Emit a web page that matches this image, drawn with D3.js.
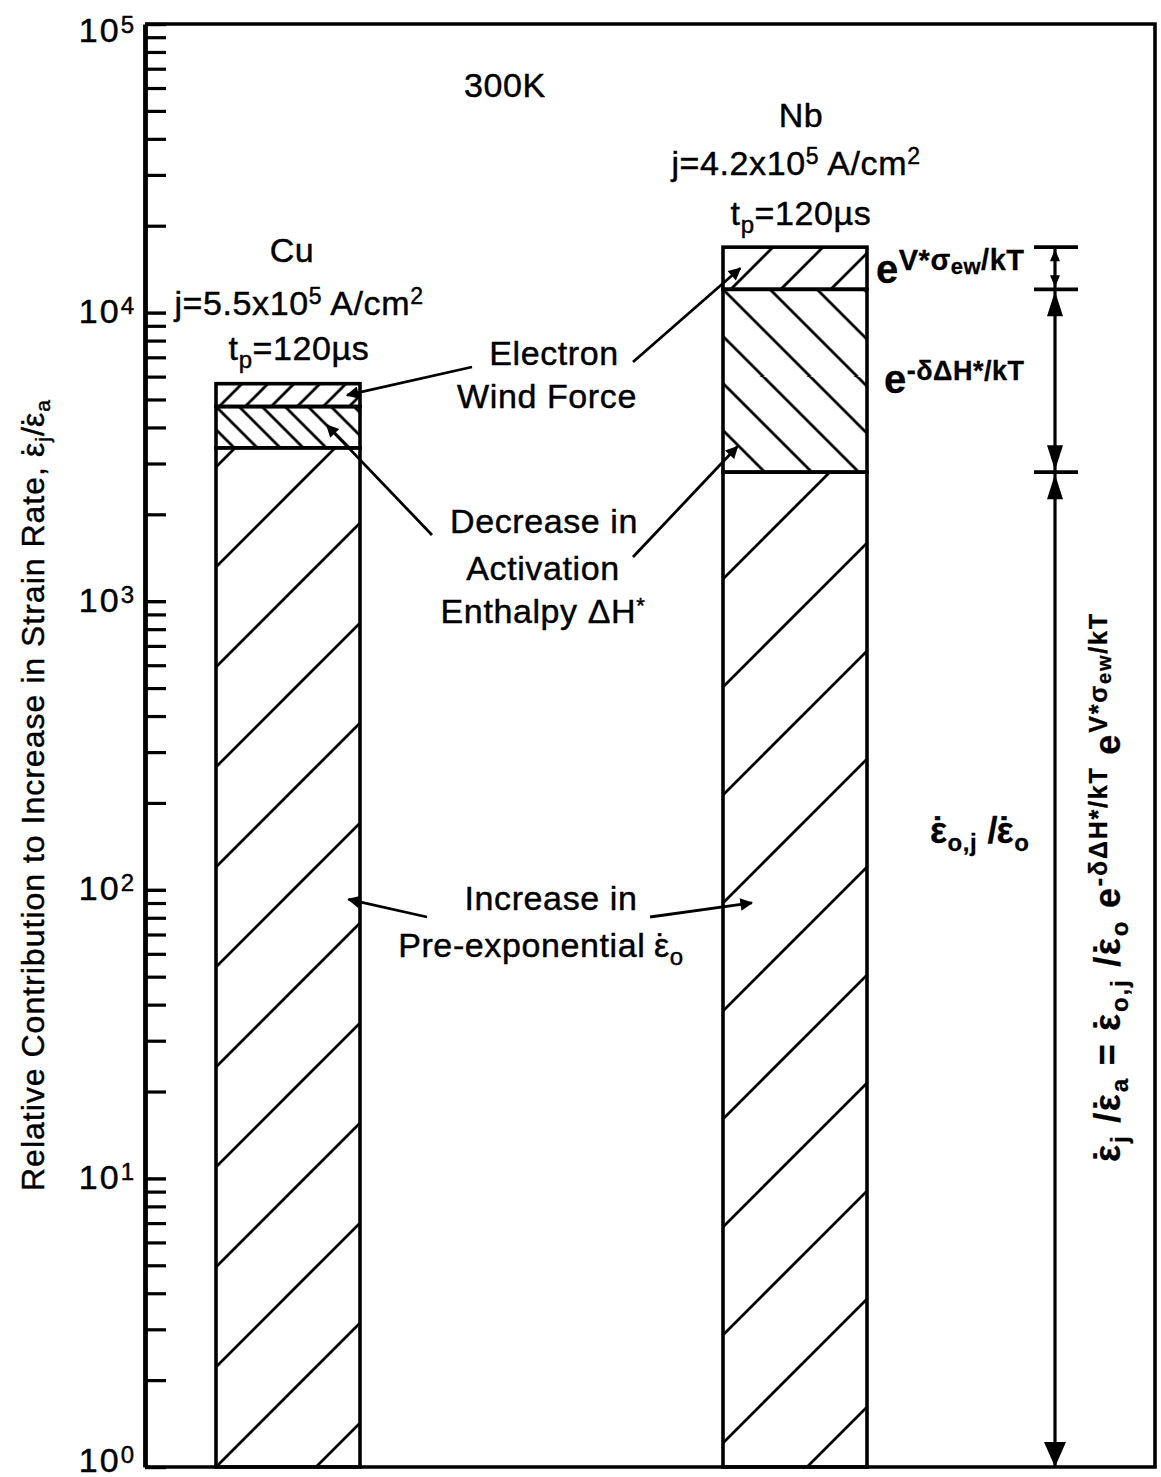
<!DOCTYPE html>
<html>
<head>
<meta charset="utf-8">
<script src="https://cdn.jsdelivr.net/npm/d3@7"></script>
<style>
  body { margin: 0; background: #fff; }
  svg { display: block; }
  text { font-family: "Liberation Sans", Arial, Helvetica, sans-serif; fill: #000; white-space: pre; stroke: #000; stroke-width: 0.45px; }
  text.bold { stroke-width: 0.3px; }
</style>
</head>
<body>
<svg id="chart" width="1161" height="1477"></svg>
<script>
// ---- data ---------------------------------------------------------------
const materials = ["Cu", "Nb"];
// increase in the pre-exponential term, ε̇o,j / ε̇o
const preExponentialRatio = [3400, 2800];
// decrease in activation enthalpy, e^(-δΔH*/kT)
const enthalpyFactor = [1.39, 4.3];
// electron wind force, e^(V*σew/kT)
const electronWindFactor = [1.2, 1.4];
// pulse conditions
const currentDensity = ["5.5", "4.2"];      // x10^5 A/cm^2
const pulseWidth = ["120", "120"];          // µs
const decadeExponents = [0, 1, 2, 3, 4, 5];
const temperatureLabel = "300K";

// ---- layout / style -----------------------------------------------------
const plot = { left: 145, top: 24, right: 1155, bottom: 1467 };
const barWidth = 144;
const FONT = 34;
const hatchStyle = {
  Cu: { pre: 100, enth: 23, wind: 26, preShift: 0 },
  Nb: { pre: 108, enth: 47, wind: 50, preShift: -24 }
};

const svg = d3.select("#chart");
const defs = svg.append("defs");

const y = d3.scaleLog().domain([1, 1e5]).range([plot.bottom, plot.top]);
const x = d3.scalePoint().domain(materials).range([288, 795]);

// stacked multiplicative components of ε̇j/ε̇a
const stacks = materials.map((m, i) => {
  const a = preExponentialRatio[i];
  const b = a * enthalpyFactor[i];
  const c = b * electronWindFactor[i];
  return {
    name: m, i,
    segs: [
      { key: "pre", lo: 1, hi: a, dir: "/" },
      { key: "enth", lo: a, hi: b, dir: "\\" },
      { key: "wind", lo: b, hi: c, dir: "/" }
    ]
  };
});

// hatch pattern: parallel 45° lines, phase anchored to a given point
function hatch(id, s, dir, sw, ax, ay) {
  const off = dir === "/" ? ((ax + ay) % s + s) % s : ((ax - ay) % s + s) % s;
  const p = defs.append("pattern")
    .attr("id", id)
    .attr("patternUnits", "userSpaceOnUse")
    .attr("width", s).attr("height", s)
    .attr("patternTransform", `translate(${off},0)`);
  const d = dir === "/"
    ? `M0,${s}L${s},0M${-s/4},${s/4}L${s/4},${-s/4}M${3*s/4},${5*s/4}L${5*s/4},${3*s/4}`
    : `M0,0L${s},${s}M${3*s/4},${-s/4}L${5*s/4},${s/4}M${-s/4},${3*s/4}L${s/4},${5*s/4}`;
  p.append("path").attr("d", d).attr("stroke", "#000").attr("stroke-width", sw).attr("fill", "none");
}

// ---- bars ---------------------------------------------------------------
const bars = svg.append("g");
stacks.forEach(st => {
  const x0 = x(st.name) - barWidth / 2;
  const hs = hatchStyle[st.name];
  st.segs.forEach(sg => {
    const id = `hatch-${st.name}-${sg.key}`;
    const top = y(sg.hi), bot = y(sg.lo);
    const ay = sg.key === "pre" ? bot + hs.preShift : top;
    hatch(id, hs[sg.key], sg.dir, 2.8, x0, ay);
    bars.append("rect")
      .attr("x", x0).attr("y", top)
      .attr("width", barWidth).attr("height", bot - top)
      .attr("fill", `url(#${id})`)
      .attr("stroke", "#000").attr("stroke-width", 3.6);
  });
});

// ---- frame and axis -----------------------------------------------------
svg.append("path")
  .attr("d", `M${plot.left},${plot.top}H${plot.right}V${plot.bottom}H${plot.left}`)
  .attr("fill", "none").attr("stroke", "#000").attr("stroke-width", 3.6);

const minorValues = [];
decadeExponents.slice(0, -1).forEach(e => {
  for (let k = 2; k <= 9; k++) minorValues.push(k * 10 ** e);
});

const minorAxis = svg.append("g")
  .attr("transform", `translate(${plot.left},0)`)
  .call(d3.axisLeft(y).tickValues(minorValues).tickSize(-21).tickSizeOuter(0).tickFormat(() => ""));
minorAxis.select(".domain").remove();
minorAxis.selectAll(".tick line").attr("stroke-width", 3.2);

const majorAxis = svg.append("g")
  .attr("transform", `translate(${plot.left},0)`)
  .call(d3.axisLeft(y).tickValues(decadeExponents.map(e => 10 ** e))
    .tickSize(-21).tickSizeOuter(0).tickPadding(11).tickFormat(() => ""));
majorAxis.select(".domain").attr("stroke-width", 4.8);
majorAxis.selectAll(".tick line").attr("stroke-width", 3.4);
majorAxis.selectAll(".tick text")
  .attr("dy", d => d >= 1e5 ? 17 : (d <= 1 ? 4 : 10))
  .style("font-family", '"Liberation Sans", Arial, sans-serif')
  .attr("fill", "#000")
  .each(function (d) {
    const t = d3.select(this);
    t.append("tspan").attr("font-size", FONT).attr("letter-spacing", 2).text("10");
    t.append("tspan").attr("font-size", 24).attr("dy", -9).text(String(Math.round(Math.log10(d))));
  });

// rich text helper: parts = [text, size, shift-up(px), weight, dx(em)]
function rich(sel, parts) {
  let cur = 0;
  parts.forEach(([t, size, shift = 0, weight, dxEm]) => {
    const ts = sel.append("tspan").attr("font-size", size).attr("dy", cur - shift).text(t);
    if (weight) ts.attr("font-weight", weight);
    if (dxEm) ts.attr("dx", dxEm * size);
    cur = shift;
  });
  return sel;
}
function label(xp, yp, parts, opts = {}) {
  const t = svg.append("text")
    .attr("x", xp).attr("y", yp)
    .attr("text-anchor", opts.anchor || "middle")
    .attr("letter-spacing", opts.ls == null ? 0.6 : opts.ls);
  if (opts.weight) t.attr("font-weight", opts.weight);
  if (opts.cls) t.attr("class", opts.cls);
  if (opts.rotate) {
    t.attr("x", null).attr("y", null)
      .attr("transform", `translate(${xp},${yp}) rotate(${opts.rotate})`);
  }
  return rich(t, parts);
}

// ε with a dot above (strain rate): dot accent, then ε pulled back beneath it
function epsDot(size, shift = 0, weight) {
  return [["\u02D9", size, shift, weight], ["\u03B5", size, shift, weight, -0.389]];
}

// y-axis title
label(44, 795, [
  ["Relative Contribution to Increase in Strain Rate, ", 32, 0],
  ...epsDot(32), ["j", 21, -6], ["/", 32, 0], ...epsDot(32), ["a", 21, -6]
], { rotate: -90, ls: 1.0 });

// ---- heading labels -----------------------------------------------------
label(505, 97, [[temperatureLabel, FONT]]);

const headBase = { Cu: [262, 315, 360], Nb: [127, 175, 225] };
const headX = { Cu: [292, 299, 299], Nb: [801, 796, 801] };
materials.forEach((m, i) => {
  const b = headBase[m], hx = headX[m];
  label(hx[0], b[0], [[m, FONT]]);
  label(hx[1], b[1], [["j=" + currentDensity[i] + "x10", FONT], ["5", 23, 11], [" A/cm", FONT, 0], ["2", 23, 11]]);
  label(hx[2], b[2], [["t", FONT], ["p", 24, -8], ["=" + pulseWidth[i] + "\u00B5s", FONT, 0]]);
});

// ---- component annotations ---------------------------------------------
label(554, 365, [["Electron", FONT]]);
label(547, 408, [["Wind Force", FONT]]);
label(544, 533, [["Decrease in", FONT]]);
label(543, 580, [["Activation", FONT]]);
label(543, 623, [["Enthalpy \u0394H", FONT], ["*", 22, 10]]);
label(551, 910, [["Increase in", FONT]]);
label(541, 957, [["Pre-exponential ", FONT], ...epsDot(FONT), ["o", 24, -8]]);

// leader lines with small arrowheads, tips placed inside each band
defs.append("marker")
  .attr("id", "tip").attr("viewBox", "0 0 10 10")
  .attr("refX", 9).attr("refY", 5)
  .attr("markerWidth", 5).attr("markerHeight", 4.5)
  .attr("markerUnits", "strokeWidth").attr("orient", "auto")
  .append("path").attr("d", "M0,0L10,5L0,10Z").attr("fill", "#000");

function bandPoint(m, segKey, fx, ft) {
  const st = stacks[materials.indexOf(m)];
  const sg = st.segs.find(s => s.key === segKey);
  const v = sg.lo * Math.pow(sg.hi / sg.lo, ft);
  return [x(m) - barWidth / 2 + fx * barWidth, y(v)];
}
const leaders = [
  { from: [472, 367], to: bandPoint("Cu", "wind", 0.91, 0.5) },
  { from: [633, 362], to: bandPoint("Nb", "wind", 0.12, 0.5) },
  { from: [432, 535], to: bandPoint("Cu", "enth", 0.77, 0.55) },
  { from: [633, 557], to: bandPoint("Nb", "enth", 0.10, 0.14) },
  { from: [427, 917], to: bandPoint("Cu", "pre", 0.92, 0.557) },
  { from: [650, 917], to: bandPoint("Nb", "pre", 0.20, 0.567) }
];
svg.append("g").selectAll("line").data(leaders).join("line")
  .attr("x1", d => d.from[0]).attr("y1", d => d.from[1])
  .attr("x2", d => d.to[0]).attr("y2", d => d.to[1])
  .attr("stroke", "#000").attr("stroke-width", 2.8)
  .attr("marker-end", "url(#tip)");

// ---- factor labels beside the Nb bar -----------------------------------
label(876, 283, [["e", 40, 0, "bold"], ["V*\u03C3", 29, 13, "bold"], ["ew", 22, 9, "bold"], ["/kT", 29, 13, "bold"]],
  { anchor: "start", ls: 0.5, cls: "bold" });
label(884, 393, [["e", 40, 0, "bold"], ["-\u03B4\u0394H*/kT", 27, 13, "bold"]],
  { anchor: "start", ls: 0.5, cls: "bold" });
label(930, 843, [...epsDot(36, 0, "bold"), ["o,j", 24, -8, "bold"], [" /", 36, 0, "bold"], ...epsDot(36, 0, "bold"), ["o", 24, -8, "bold"]],
  { anchor: "start", ls: 0.5, cls: "bold" });

// rotated overall relation
label(1120, 887, [
  ...epsDot(36, 0, "bold"), ["j", 24, -8, "bold"], [" /", 36, 0, "bold"], ...epsDot(36, 0, "bold"), ["a", 24, -8, "bold"],
  [" = ", 36, 0, "bold"], ...epsDot(36, 0, "bold"), ["o,j", 24, -8, "bold"], [" /", 36, 0, "bold"], ...epsDot(36, 0, "bold"), ["o", 24, -8, "bold"],
  [" e", 36, 0, "bold"], ["-\u03B4\u0394H*/kT", 25, 13, "bold"],
  [" e", 36, 0, "bold"], ["V*\u03C3", 25, 13, "bold"], ["ew", 20, 9, "bold"], ["/kT", 25, 13, "bold"]
], { rotate: -90, ls: 1.8, cls: "bold" });

// ---- dimension line spanning the Nb components --------------------------
const nb = stacks[materials.indexOf("Nb")];
const levels = [nb.segs[2].hi, nb.segs[2].lo, nb.segs[1].lo, 1];
const dimX = 1055;
const dim = svg.append("g");
dim.append("line")
  .attr("x1", dimX).attr("x2", dimX)
  .attr("y1", y(levels[0])).attr("y2", y(levels[3]))
  .attr("stroke", "#000").attr("stroke-width", 3.2);
dim.selectAll("line.tick").data(levels.slice(0, 3)).join("line")
  .attr("class", "tick")
  .attr("x1", dimX - 21).attr("x2", dimX + 23)
  .attr("y1", d => y(d)).attr("y2", d => y(d))
  .attr("stroke", "#000").attr("stroke-width", 3.6);
function arrowHead(tipY, dirY, len, half) {
  dim.append("path")
    .attr("d", `M${dimX},${tipY}L${dimX - half},${tipY + dirY * len}L${dimX + half},${tipY + dirY * len}Z`)
    .attr("fill", "#000");
}
for (let k = 0; k < 3; k++) {
  const top = y(levels[k]), bot = y(levels[k + 1]);
  const small = bot - top < 60;
  const len = small ? 12 : 25, half = small ? 5 : 8;
  arrowHead(top + 2, 1, len, half);
  arrowHead(bot - (k === 2 ? 0 : 2), -1, len, k === 2 ? 11 : half);
}
</script>
</body>
</html>
